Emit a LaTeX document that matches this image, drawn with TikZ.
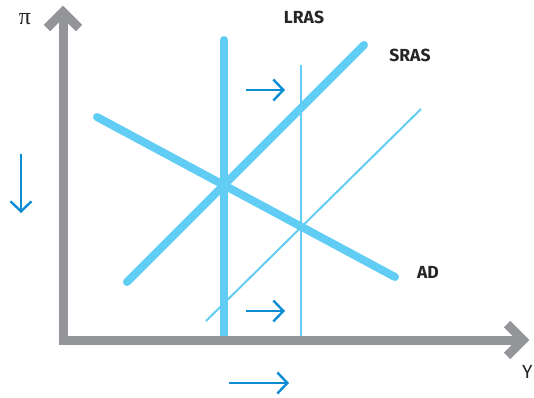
\documentclass[tikz,border=0pt]{standalone}
\usepackage{fontspec}
\setmainfont{Fira Sans}
\newfontfamily\piserif{Liberation Serif}
\usetikzlibrary{arrows.meta}
\definecolor{lblue}{HTML}{62CDF4}
\definecolor{dblue}{HTML}{0B8CD3}
\definecolor{agray}{HTML}{949599}
\tikzset{
  thickcurve/.style={lblue,line width=8pt,line cap=round},
  thincurve/.style={lblue,line width=2pt},
  shiftarrow/.style={dblue,line width=2.4pt,-{Straight Barb[length=10pt,width=21pt,line width=2.4pt]}},
  axisline/.style={agray,line width=9pt},
  lbl/.style={font=\fontsize{17.5}{20}\selectfont\bfseries,text=black!85,inner sep=0pt},
  axlbl/.style={font=\fontsize{19}{20}\selectfont,text=black!85,inner sep=0pt}
}
\begin{document}
\begin{tikzpicture}[x=1pt,y=-1pt]
\useasboundingbox (0,0) rectangle (534,397);
% thin shifted curves
\coordinate (lr2t) at (301,65);
\coordinate (lr2b) at (301,337);
\draw[thincurve] (lr2t) -- (lr2b);
\coordinate (sr2a) at (206,321);
\coordinate (sr2b) at (421,109);
\draw[thincurve] (sr2a) -- (sr2b);
% thick curves
\coordinate (lr1t) at (224,40);
\coordinate (lr1b) at (224,338);
\draw[lblue,line width=8pt] (lr1b) -- (lr1t);
\draw[lblue,line width=8pt,line cap=round] (224,42) -- (lr1t);
\coordinate (sr1a) at (127,282);
\coordinate (sr1b) at (364,45);
\draw[thickcurve] (sr1a) -- (sr1b);
\coordinate (ad1a) at (97,117);
\coordinate (ad1b) at (395,277);
\draw[thickcurve] (ad1a) -- (ad1b);
% axes
\coordinate (ytip) at (63,12);
\coordinate (orig) at (63,340);
\coordinate (xtip) at (523,340);
\draw[axisline,line join=miter] (ytip) -- (orig) -- (xtip);
\draw[axisline,line join=miter] (47,28) -- (ytip) -- (79,28);
\draw[axisline,line join=miter] (507,324) -- (xtip) -- (507,356);
% labels
\node[axlbl,font=\fontsize{24}{24}\selectfont\piserif] (pi) at (25,19) {π};
\node[axlbl,anchor=west] (ylab) at (522,372) {Y};
\node[lbl] (lras) at (304,17) {LRAS};
\node[lbl] (sras) at (410,55) {SRAS};
\node[lbl] (ad) at (428,272) {AD};
% shift arrows
\coordinate (a1s) at (246,90); \coordinate (a1e) at (285,90);
\draw[shiftarrow] (a1s) -- (a1e);
\coordinate (a2s) at (246,311); \coordinate (a2e) at (285,311);
\draw[shiftarrow] (a2s) -- (a2e);
\coordinate (a3s) at (229,383); \coordinate (a3e) at (289,383);
\draw[shiftarrow] (a3s) -- (a3e);
\coordinate (a4s) at (21,154); \coordinate (a4e) at (21,213);
\draw[shiftarrow] (a4s) -- (a4e);
\end{tikzpicture}
\end{document}
